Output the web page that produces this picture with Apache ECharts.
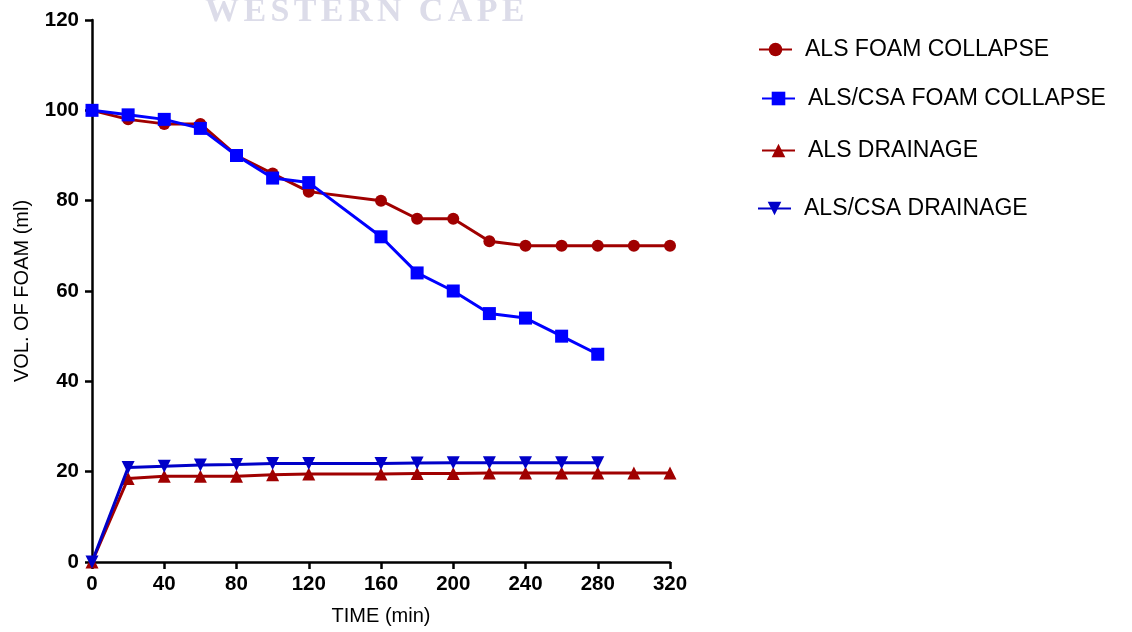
<!DOCTYPE html>
<html>
<head>
<meta charset="utf-8">
<script src="https://cdn.jsdelivr.net/npm/echarts@6/dist/echarts.min.js"></script>
<style>
  html, body { margin: 0; padding: 0; background: #fff; }
  #chart { width: 1132px; height: 632px; }
</style>
</head>
<body>
<div id="chart"></div>
<script>
// Foam stability: volume of foam (ml) against time (min)
const timesAls = [0, 20, 40, 60, 80, 100, 120, 160, 180, 200, 220, 240, 260, 280, 300, 320];
const timesCsa = [0, 20, 40, 60, 80, 100, 120, 160, 180, 200, 220, 240, 260, 280];

const alsCollapse = [100, 98, 97, 97, 90, 86, 82, 80, 76, 76, 71, 70, 70, 70, 70, 70];
const csaCollapse = [100, 99, 98, 96, 90, 85, 84, 72, 64, 60, 55, 54, 50, 46];
const alsDrainage = [0, 18.5, 19, 19, 19, 19.3, 19.5, 19.5, 19.6, 19.6, 19.7, 19.7, 19.7, 19.7, 19.7, 19.7];
const csaDrainage = [0, 20.9, 21.2, 21.5, 21.6, 21.8, 21.8, 21.8, 21.9, 22, 22, 22, 22, 22];

const xTicks = { min: 0, max: 320, interval: 40 };
const yTicks = { min: 0, max: 120, interval: 20 };

const seriesNames = ['ALS FOAM COLLAPSE', 'ALS/CSA FOAM COLLAPSE', 'ALS DRAINAGE', 'ALS/CSA DRAINAGE'];
const bannerText = 'WESTERN CAPE';

const RED = '#a00000';
const BLUE = '#0000ff';
const NAVY = '#0000c8';

function pairs(xs, ys) {
  return xs.map((x, i) => [x, ys[i]]);
}

// Letter-spaced banner: lay out each glyph with extra tracking
function bannerGlyphs(text, startX, baseY, font, tracking, color) {
  const ctx = document.createElement('canvas').getContext('2d');
  ctx.font = font;
  const items = [];
  let x = startX;
  for (const ch of text) {
    if (ch !== ' ') {
      items.push({
        type: 'text',
        x: x,
        y: baseY,
        silent: true,
        z: 0,
        style: { text: ch, font: font, fill: color, textVerticalAlign: 'bottom' }
      });
    }
    x += ctx.measureText(ch).width + tracking;
  }
  return items;
}

const chart = echarts.init(document.getElementById('chart'), null, { renderer: 'canvas' });

const tickFont = {
  color: '#000',
  fontFamily: '"Liberation Sans", Arial, sans-serif',
  fontWeight: 'bold',
  fontSize: 20.5
};

function legendAt(name, left, top) {
  return {
    data: [name],
    left: left,
    top: top,
    orient: 'vertical',
    itemWidth: 33,
    itemHeight: 17,
    textStyle: {
      color: '#000',
      fontFamily: '"Liberation Sans", Arial, sans-serif',
      fontSize: 23,
      padding: [0, 0, 0, 8]
    }
  };
}

const option = {
  backgroundColor: '#fff',
  animation: false,
  graphic: bannerGlyphs(bannerText, 205, 29, 'bold 34px "Liberation Serif", "Times New Roman", serif', 4.4, '#dcdce9'),
  legend: [
    legendAt(seriesNames[0], 753, 33),
    legendAt(seriesNames[1], 756, 82),
    legendAt(seriesNames[2], 756, 134),
    legendAt(seriesNames[3], 752, 192)
  ],
  grid: { left: 92, right: 462, top: 20, bottom: 70, containLabel: false },
  xAxis: {
    type: 'value',
    min: xTicks.min,
    max: xTicks.max,
    interval: xTicks.interval,
    name: 'TIME (min)',
    nameLocation: 'middle',
    nameGap: 44,
    nameTextStyle: { color: '#000', fontFamily: '"Liberation Sans", Arial, sans-serif', fontSize: 20 },
    axisLine: { show: true, onZero: false, lineStyle: { color: '#000', width: 2.5 } },
    axisTick: { show: true, length: 7, lineStyle: { color: '#000', width: 2.5 } },
    axisLabel: Object.assign({ margin: 12 }, tickFont),
    splitLine: { show: false }
  },
  yAxis: {
    type: 'value',
    min: yTicks.min,
    max: yTicks.max,
    interval: yTicks.interval,
    name: 'VOL. OF FOAM (ml)',
    nameLocation: 'middle',
    nameGap: 60,
    nameRotate: 90,
    nameTextStyle: { color: '#000', fontFamily: '"Liberation Sans", Arial, sans-serif', fontSize: 20 },
    axisLine: { show: true, lineStyle: { color: '#000', width: 2.5 } },
    axisTick: { show: true, length: 7, lineStyle: { color: '#000', width: 2.5 } },
    axisLabel: Object.assign({ margin: 13 }, tickFont),
    splitLine: { show: false }
  },
  series: [
    {
      name: seriesNames[0],
      type: 'line',
      data: pairs(timesAls, alsCollapse),
      symbol: 'circle',
      symbolSize: 12,
      clip: false,
      itemStyle: { color: RED },
      lineStyle: { color: RED, width: 3 },
      z: 3
    },
    {
      name: seriesNames[1],
      type: 'line',
      data: pairs(timesCsa, csaCollapse),
      symbol: 'rect',
      symbolSize: 13,
      clip: false,
      itemStyle: { color: BLUE },
      lineStyle: { color: BLUE, width: 3 },
      z: 4
    },
    {
      name: seriesNames[2],
      type: 'line',
      data: pairs(timesAls, alsDrainage),
      symbol: 'triangle',
      symbolSize: 13,
      clip: false,
      itemStyle: { color: RED },
      lineStyle: { color: RED, width: 3 },
      z: 5
    },
    {
      name: seriesNames[3],
      type: 'line',
      data: pairs(timesCsa, csaDrainage),
      symbol: 'triangle',
      symbolRotate: 180,
      symbolSize: 13,
      clip: false,
      itemStyle: { color: NAVY },
      lineStyle: { color: NAVY, width: 3 },
      z: 6
    }
  ]
};

chart.setOption(option);
</script>
</body>
</html>
